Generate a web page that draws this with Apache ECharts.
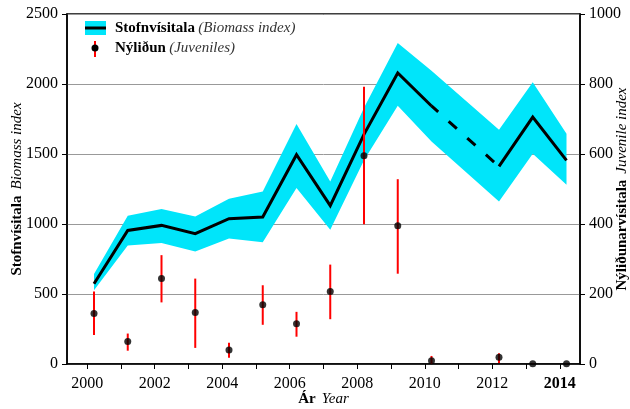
<!DOCTYPE html>
<html>
<head>
<meta charset="utf-8">
<script src="https://cdn.jsdelivr.net/npm/echarts@6/dist/echarts.min.js"></script>
<style>
  html, body { margin: 0; padding: 0; background: #fff; }
  #chart { width: 630px; height: 409px; }
</style>
</head>
<body>
<div id="chart"></div>
<script>
// survey years (points sit at ~March of each year)
const years = [2000, 2001, 2002, 2003, 2004, 2005, 2006, 2007, 2008, 2009, 2010, 2011, 2012, 2013, 2014]
const surveyOffset = 0.2
const yearLabels = [2000, 2002, 2004, 2006, 2008, 2010, 2012, 2014]
// Stofnvísitala (biomass index), left axis
const biomass = [573, 954, 990, 931, 1038, 1050, 1495, 1131, 1640, 2079, 1843, null, 1411, 1764, 1454]
const biomassLow = [526, 847, 864, 804, 897, 869, 1257, 959, 1455, 1845, 1590, null, 1161, 1502, 1281]
const biomassHigh = [643, 1059, 1107, 1054, 1181, 1233, 1714, 1304, 1830, 2293, 2095, null, 1673, 2012, 1645]
// Nýliðun (juvenile index), right axis
const juveniles = [144, 64, 244, 147, 40, 169, 115, 207, 595, 395, 9, null, 19, 0.5, 0.5]
const juvLow = [83, 38, 176, 46, 18, 112, 78, 128, 399, 258, 0, null, 3, 0, 0]
const juvHigh = [207, 87, 311, 244, 61, 225, 149, 284, 792, 528, 23, null, 31, 1, 1]

const FONT = 'Liberation Serif'
const CYAN = '#00e5fa'

const xs = years.map(y => +(y + surveyOffset).toFixed(1))

// solid line breaks at the missing year, dashed piece bridges it
const solidData = []
const dashData = []
years.forEach((y, i) => {
  if (biomass[i] == null) {
    solidData.push('-')
    dashData.push([xs[i - 1], biomass[i - 1]], [xs[i + 1], biomass[i + 1]])
  } else {
    solidData.push([xs[i], biomass[i]])
  }
})

const bandData = []
years.forEach((y, i) => {
  if (biomassLow[i] != null) bandData.push([xs[i], biomassLow[i], biomassHigh[i]])
})

const juvData = []
const juvErr = []
years.forEach((y, i) => {
  if (juveniles[i] != null) {
    juvData.push([xs[i], juveniles[i]])
    juvErr.push([xs[i], juvLow[i], juvHigh[i]])
  }
})

const nameRich = {
  b: { fontFamily: FONT, fontWeight: 'bold', fontSize: 15, color: '#000' },
  i: { fontFamily: FONT, fontStyle: 'italic', fontSize: 15, color: '#000' }
}

const myChart = echarts.init(document.getElementById('chart'))

const option = {
  animation: false,
  textStyle: { fontFamily: FONT },
  grid: {
    left: 67,
    right: 50,
    top: 14,
    bottom: 45,
    containLabel: false,
    outerBoundsMode: 'none',
    show: true,
    borderColor: '#000',
    borderWidth: 1.5,
    backgroundColor: 'transparent'
  },
  xAxis: {
    type: 'value',
    min: 1999.4,
    max: 2014.6,
    name: '{b|Ár}  {i|Year}',
    nameLocation: 'middle',
    nameGap: 28,
    nameMoveOverlap: false,
    nameTextStyle: { rich: nameRich },
    axisLine: { lineStyle: { color: '#000', width: 1.5 } },
    axisTick: { length: 5, lineStyle: { color: '#000' }, customValues: years },
    splitLine: { show: false },
    axisLabel: {
      color: '#000',
      fontFamily: FONT,
      fontSize: 16,
      margin: 12,
      customValues: yearLabels,
      formatter: v => (v === 2014 ? '{b|2014}' : String(v)),
      rich: { b: { fontFamily: FONT, fontSize: 16, fontWeight: 'bold', color: '#000' } }
    }
  },
  yAxis: [
    {
      type: 'value',
      min: 0,
      max: 2500,
      interval: 500,
      name: '{b|Stofnvísitala}  {i|Biomass index}',
      nameLocation: 'middle',
      nameRotate: 90,
      nameGap: 42,
      nameMoveOverlap: false,
      nameTextStyle: { rich: nameRich },
      axisLine: { show: true, lineStyle: { color: '#000', width: 1.5 } },
      axisTick: { show: true, length: 5, lineStyle: { color: '#000' } },
      axisLabel: { color: '#000', fontFamily: FONT, fontSize: 16, margin: 9, formatter: v => String(v) },
      splitLine: { show: true, lineStyle: { color: '#999', width: 1 } }
    },
    {
      type: 'value',
      min: 0,
      max: 1000,
      interval: 200,
      position: 'right',
      name: '{b|Nýliðunarvísitala}  {i|Juvenile index}',
      nameLocation: 'middle',
      nameRotate: 90,
      nameGap: 35,
      nameMoveOverlap: false,
      nameTextStyle: { rich: nameRich },
      axisLine: { show: true, lineStyle: { color: '#000', width: 1.5 } },
      axisTick: { show: true, length: 5, lineStyle: { color: '#000' } },
      axisLabel: { color: '#000', fontFamily: FONT, fontSize: 16, margin: 9, formatter: v => String(v) },
      splitLine: { show: false }
    }
  ],
  graphic: [
    // legend
    { type: 'rect', left: 85, top: 21, shape: { width: 21, height: 14 }, style: { fill: CYAN } },
    { type: 'line', shape: { x1: 85, y1: 28, x2: 106, y2: 28 }, style: { stroke: '#000', lineWidth: 3 } },
    {
      type: 'text', left: 115, top: 21,
      style: {
        text: '{b|Stofnvísitala} {i|(Biomass index)}',
        rich: {
          b: { fontFamily: FONT, fontWeight: 'bold', fontSize: 15, fill: '#000' },
          i: { fontFamily: FONT, fontStyle: 'italic', fontSize: 15, fill: '#333' }
        }
      }
    },
    { type: 'line', shape: { x1: 95, y1: 41, x2: 95, y2: 57 }, style: { stroke: '#f00', lineWidth: 2 } },
    { type: 'circle', shape: { cx: 95, cy: 48, r: 3.5 }, style: { fill: '#000' } },
    {
      type: 'text', left: 115, top: 41,
      style: {
        text: '{b|Nýliðun} {i|(Juveniles)}',
        rich: {
          b: { fontFamily: FONT, fontWeight: 'bold', fontSize: 15, fill: '#000' },
          i: { fontFamily: FONT, fontStyle: 'italic', fontSize: 15, fill: '#333' }
        }
      }
    }
  ],
  series: [
    {
      // confidence band around the biomass index
      type: 'custom',
      z: 1,
      data: bandData,
      renderItem (params, api) {
        if (params.dataIndex !== 0) return
        const upper = bandData.map(d => api.coord([d[0], d[2]]))
        const lower = bandData.map(d => api.coord([d[0], d[1]])).reverse()
        return {
          type: 'polygon',
          shape: { points: upper.concat(lower) },
          style: { fill: CYAN, stroke: null }
        }
      }
    },
    {
      type: 'line',
      z: 3,
      data: solidData,
      connectNulls: false,
      symbol: 'none',
      lineStyle: { color: '#000', width: 3, join: 'miter' }
    },
    {
      type: 'line',
      z: 3,
      data: dashData,
      symbol: 'none',
      lineStyle: { color: '#000', width: 3, type: [11, 14], dashOffset: 2, cap: 'butt' }
    },
    {
      // error bars for juveniles
      type: 'custom',
      yAxisIndex: 1,
      z: 4,
      data: juvErr,
      renderItem (params, api) {
        const p1 = api.coord([api.value(0), api.value(1)])
        const p2 = api.coord([api.value(0), api.value(2)])
        return {
          type: 'line',
          shape: { x1: p1[0], y1: p1[1], x2: p2[0], y2: p2[1] },
          style: { stroke: '#f00', lineWidth: 2 }
        }
      }
    },
    {
      type: 'scatter',
      yAxisIndex: 1,
      z: 5,
      data: juvData,
      symbol: 'circle',
      symbolSize: 7,
      itemStyle: { color: '#000' }
    }
  ]
}

myChart.setOption(option)
</script>
</body>
</html>
